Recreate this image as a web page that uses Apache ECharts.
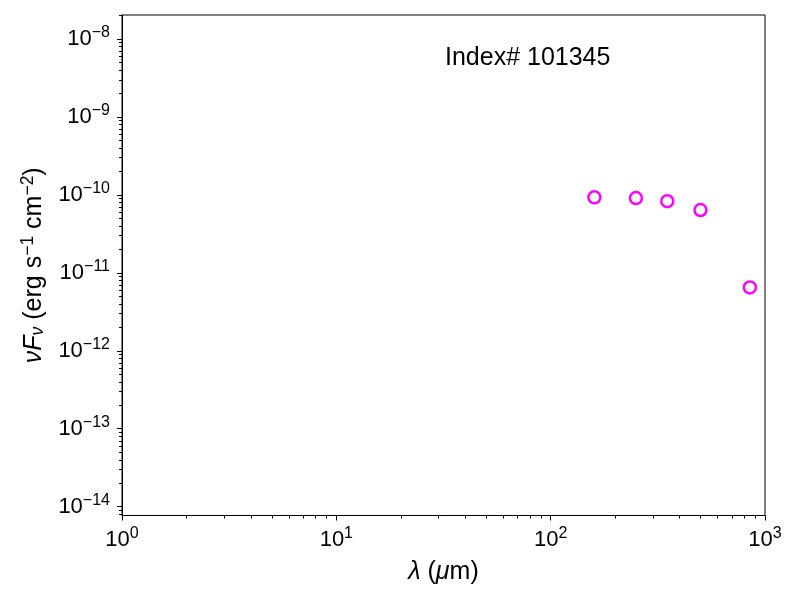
<!DOCTYPE html>
<html>
<head>
<meta charset="utf-8">
<script src="https://cdn.jsdelivr.net/npm/echarts@6/dist/echarts.min.js"></script>
<style>
  html, body { margin: 0; padding: 0; background: #fff; }
  #chart { width: 800px; height: 600px; }
</style>
</head>
<body>
<div id="chart"></div>
<script>
// 数据
const wavelengths = [160, 250, 350, 500, 850];           // λ (µm)
const fluxes = [9.3e-11, 9.1e-11, 8.3e-11, 6.4e-11, 6.5e-12]; // νFν
const xMajor = [1, 10, 100, 1000];
const yMajor = [1e-14, 1e-13, 1e-12, 1e-11, 1e-10, 1e-9, 1e-8];
const xRange = [1, 1000];
const yRange = [Math.pow(10, -14.113), Math.pow(10, -7.692)];
const titleText = 'Index# 101345';

function minorTicks(lo, hi) {
    const out = [];
    for (let e = Math.floor(Math.log10(lo)); e <= Math.ceil(Math.log10(hi)); e++) {
        for (let m = 2; m <= 9; m++) {
            const v = m * Math.pow(10, e);
            if (v >= lo && v <= hi) out.push(v);
        }
    }
    return out;
}

const font = 'Liberation Sans, Arial, sans-serif';
const tickRich = {
    b: { fontSize: 22, fontFamily: font, color: '#000' },
    s: { fontSize: 16, fontFamily: font, color: '#000', padding: [0, 0, 12, 0] }
};
function powLabel(v) {
    const e = Math.round(Math.log10(v));
    return '{b|10}{s|' + String(e).replace('-', '\u2212') + '}';
}

const chart = echarts.init(document.getElementById('chart'));

const option = {
    backgroundColor: '#fff',
    animation: false,
    grid: {
        left: 122, right: 35, top: 15, bottom: 84.5,
        show: true, borderColor: '#000', borderWidth: 1, backgroundColor: 'transparent'
    },
    graphic: [{
        type: 'text',
        left: 445, top: 46,
        style: { text: titleText, fontSize: 25, fontFamily: font, fill: '#000' }
    }],
    xAxis: [{
        type: 'log', logBase: 10, min: xRange[0], max: xRange[1], position: 'bottom',
        name: '{i|λ} ({i|μ}m)', nameLocation: 'middle', nameGap: 44,
        nameTextStyle: {
            rich: {
                i: { fontSize: 25, fontFamily: font, fontStyle: 'italic', color: '#000' }
            },
            fontSize: 25, fontFamily: font, color: '#000'
        },
        axisLine: { show: true, onZero: false, lineStyle: { color: '#000', width: 1 } },
        axisTick: { show: true, length: 5, lineStyle: { color: '#000' }, customValues: xMajor },
        axisLabel: { margin: 10, formatter: powLabel, rich: tickRich, customValues: xMajor },
        splitLine: { show: false }
    }, {
        type: 'log', logBase: 10, min: xRange[0], max: xRange[1], gridIndex: 0, position: 'bottom',
        axisLine: { show: false, onZero: false },
        axisTick: { show: true, length: 3, lineStyle: { color: '#000' }, customValues: minorTicks(xRange[0], xRange[1]) },
        axisLabel: { show: false },
        splitLine: { show: false }
    }],
    yAxis: [{
        type: 'log', logBase: 10, min: yRange[0], max: yRange[1], position: 'left',
        name: '{i|νF}{sub|ν} (erg s{sup|\u22121} cm{sup|\u22122})',
        nameLocation: 'middle', nameGap: 72, nameRotate: 90,
        nameTextStyle: {
            fontSize: 25, fontFamily: font, color: '#000',
            rich: {
                i: { fontSize: 25, fontFamily: font, fontStyle: 'italic', color: '#000' },
                sub: { fontSize: 17.5, fontFamily: font, fontStyle: 'italic', color: '#000', padding: [7, 0, 0, 0] },
                sup: { fontSize: 17.5, fontFamily: font, color: '#000', padding: [0, 0, 13, 0] }
            }
        },
        axisLine: { show: true, onZero: false, lineStyle: { color: '#000', width: 1 } },
        axisTick: { show: true, length: 5, lineStyle: { color: '#000' }, customValues: yMajor },
        axisLabel: { margin: 12, formatter: powLabel, rich: tickRich, customValues: yMajor },
        splitLine: { show: false }
    }, {
        type: 'log', logBase: 10, min: yRange[0], max: yRange[1], gridIndex: 0, position: 'left',
        axisLine: { show: false, onZero: false },
        axisTick: { show: true, length: 3, lineStyle: { color: '#000' }, customValues: minorTicks(yRange[0], yRange[1]) },
        axisLabel: { show: false },
        splitLine: { show: false }
    }],
    series: [{
        type: 'scatter',
        data: wavelengths.map((w, i) => [w, fluxes[i]]),
        symbol: 'circle',
        symbolSize: 12,
        itemStyle: { color: '#fff', borderColor: '#ff00ff', borderWidth: 2.5, opacity: 1 }
    }]
};

chart.setOption(option);
</script>
</body>
</html>
